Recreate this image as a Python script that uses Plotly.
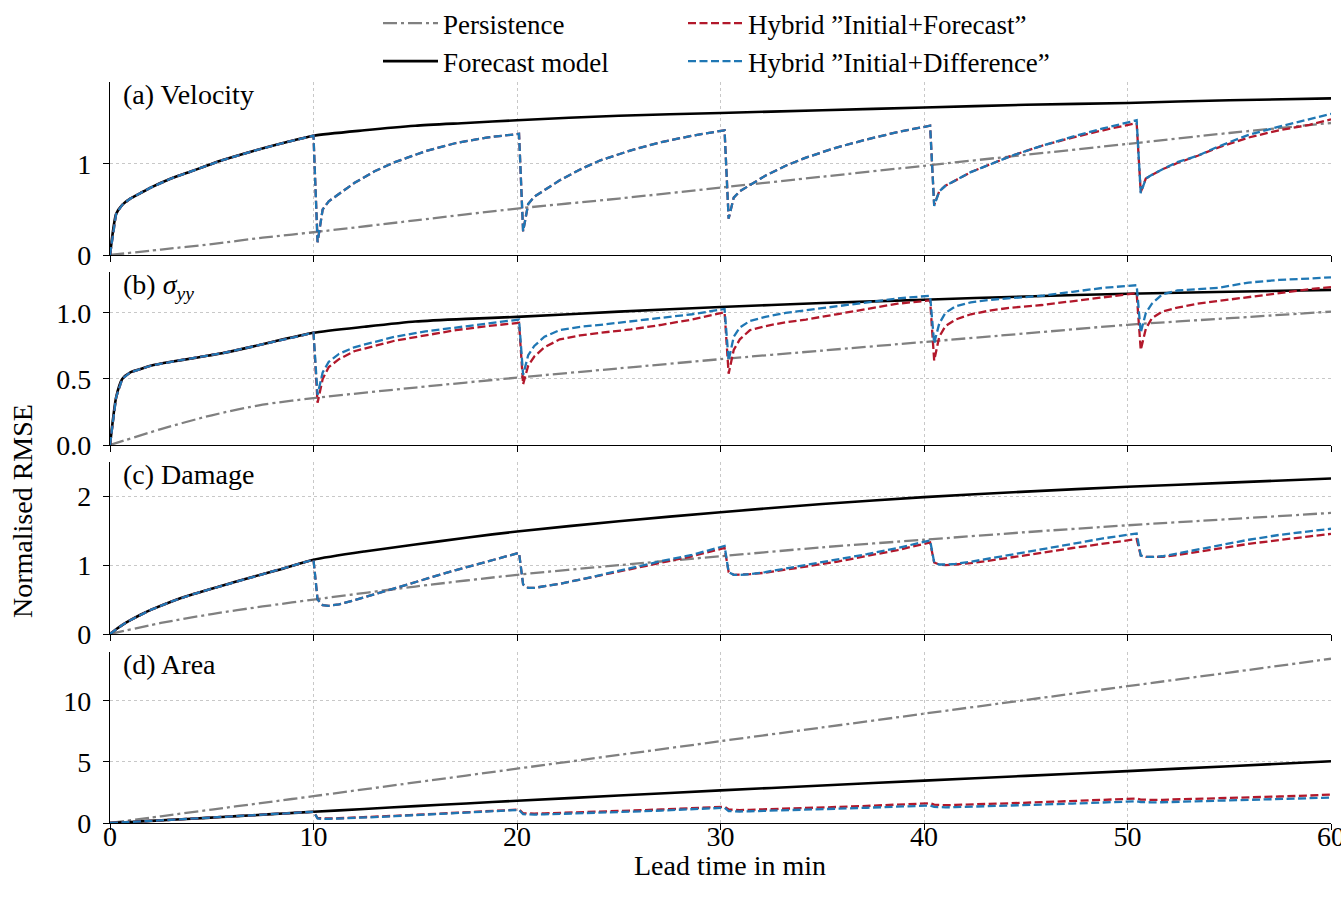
import plotly.graph_objects as go
from plotly.subplots import make_subplots

# ---------------- data ----------------
HYB_T = [0, 0.3, 0.6, 1, 1.5, 2, 3, 4, 5.5, 7, 8.5, 10.0,
         10.2, 10.45, 10.75, 11.25, 12, 13, 14, 15.5, 17, 18.5, 20.1,
         20.3, 20.55, 20.85, 21.35, 22.1, 23.1, 24.1, 25.6, 27.1, 28.6, 30.2,
         30.4, 30.65, 30.95, 31.45, 32.2, 33.2, 34.2, 35.7, 37.2, 38.7, 40.3,
         40.5, 40.75, 41.05, 41.55, 42.3, 43.3, 44.3, 45.8, 47.3, 48.8, 50.45,
         50.65, 50.9, 51.2, 51.7, 52.45, 53.45, 54.45, 55.95, 57.45, 58.95, 60]
FC_T = [0, 0.3, 0.6, 1, 1.5, 2, 3, 4, 5.5, 7, 8.5, 10,
        12.5, 15, 17.5, 20, 25, 30, 35, 40, 45, 50, 55, 60]
PERS_T = [0, 2.5, 5, 7.5, 10, 15, 20, 25, 30, 35, 40, 45, 50, 55, 60]

# (a) Velocity
VEL_PERS = [0, 0.06, 0.12, 0.19, 0.25, 0.38, 0.51, 0.62, 0.74, 0.86, 0.98, 1.10, 1.22, 1.34, 1.45]
VEL_FC = [0, 0.45, 0.55, 0.62, 0.68, 0.74, 0.84, 0.92, 1.04, 1.14, 1.23, 1.31,
          1.37, 1.42, 1.45, 1.48, 1.53, 1.56, 1.59, 1.62, 1.65, 1.67, 1.70, 1.72]
VEL_HIF = [0, 0.45, 0.55, 0.62, 0.68, 0.74, 0.84, 0.92, 1.04, 1.14, 1.23, 1.31,
           0.14, 0.50, 0.59, 0.67, 0.79, 0.92, 1.02, 1.14, 1.23, 1.29, 1.33,
           0.26, 0.56, 0.64, 0.71, 0.82, 0.94, 1.04, 1.15, 1.24, 1.31, 1.37,
           0.40, 0.63, 0.70, 0.77, 0.87, 0.98, 1.07, 1.18, 1.27, 1.35, 1.42,
           0.55, 0.70, 0.76, 0.82, 0.91, 1.00, 1.09, 1.20, 1.29, 1.37, 1.45,
           0.69, 0.84, 0.88, 0.94, 1.01, 1.09, 1.18, 1.29, 1.37, 1.43, 1.49]
VEL_HID = [0, 0.45, 0.55, 0.62, 0.68, 0.74, 0.84, 0.92, 1.04, 1.14, 1.23, 1.31,
           0.14, 0.50, 0.59, 0.67, 0.79, 0.92, 1.02, 1.14, 1.23, 1.29, 1.33,
           0.26, 0.56, 0.64, 0.71, 0.82, 0.94, 1.04, 1.15, 1.24, 1.31, 1.37,
           0.40, 0.63, 0.70, 0.77, 0.87, 0.98, 1.07, 1.18, 1.27, 1.35, 1.42,
           0.54, 0.70, 0.76, 0.82, 0.91, 1.00, 1.09, 1.20, 1.30, 1.39, 1.48,
           0.68, 0.84, 0.88, 0.94, 1.02, 1.09, 1.19, 1.32, 1.41, 1.49, 1.55]

# (b) sigma_yy
SIG_PERS = [0, 0.12, 0.225, 0.305, 0.355, 0.435, 0.51, 0.58, 0.65, 0.715, 0.78, 0.845, 0.91, 0.96, 1.01]
SIG_FC = [0, 0.36, 0.50, 0.55, 0.575, 0.60, 0.63, 0.655, 0.695, 0.745, 0.80, 0.85,
          0.895, 0.935, 0.955, 0.97, 1.01, 1.045, 1.075, 1.10, 1.125, 1.145, 1.16, 1.175]
SIG_HIF = [0, 0.36, 0.50, 0.55, 0.575, 0.60, 0.63, 0.655, 0.695, 0.745, 0.80, 0.85,
           0.32, 0.50, 0.59, 0.65, 0.71, 0.75, 0.79, 0.83, 0.87, 0.90, 0.925,
           0.46, 0.60, 0.67, 0.74, 0.80, 0.83, 0.85, 0.875, 0.91, 0.95, 1.005,
           0.54, 0.72, 0.80, 0.87, 0.90, 0.93, 0.95, 0.99, 1.03, 1.07, 1.095,
           0.64, 0.82, 0.90, 0.95, 0.99, 1.02, 1.04, 1.06, 1.09, 1.12, 1.15,
           0.72, 0.88, 0.96, 1.01, 1.04, 1.07, 1.09, 1.12, 1.15, 1.18, 1.195]
SIG_HID = [0, 0.36, 0.50, 0.55, 0.575, 0.60, 0.63, 0.655, 0.695, 0.745, 0.80, 0.85,
           0.38, 0.55, 0.63, 0.69, 0.74, 0.78, 0.82, 0.86, 0.89, 0.92, 0.95,
           0.53, 0.68, 0.75, 0.82, 0.87, 0.895, 0.91, 0.935, 0.96, 0.99, 1.03,
           0.64, 0.82, 0.89, 0.94, 0.97, 1.00, 1.02, 1.05, 1.08, 1.11, 1.13,
           0.77, 0.92, 1.00, 1.05, 1.08, 1.10, 1.11, 1.13, 1.16, 1.19, 1.21,
           0.85, 1.00, 1.07, 1.14, 1.17, 1.18, 1.19, 1.23, 1.25, 1.26, 1.27]

# (c) Damage
DAM_PERS = [0, 0.16, 0.29, 0.40, 0.50, 0.69, 0.86, 1.00, 1.13, 1.26, 1.37, 1.48, 1.58, 1.67, 1.76]
DAM_FC = [0, 0.07, 0.13, 0.20, 0.28, 0.35, 0.47, 0.57, 0.70, 0.83, 0.95, 1.08,
          1.20, 1.30, 1.40, 1.49, 1.64, 1.77, 1.89, 1.99, 2.07, 2.14, 2.20, 2.26]
DAM_HIF = [0, 0.07, 0.13, 0.20, 0.28, 0.35, 0.47, 0.57, 0.70, 0.83, 0.95, 1.08,
           0.50, 0.42, 0.41, 0.43, 0.49, 0.58, 0.67, 0.80, 0.93, 1.05, 1.18,
           0.72, 0.67, 0.67, 0.69, 0.73, 0.79, 0.85, 0.94, 1.04, 1.13, 1.25,
           0.90, 0.86, 0.86, 0.87, 0.89, 0.93, 0.98, 1.05, 1.13, 1.22, 1.33,
           1.04, 1.01, 1.00, 1.01, 1.03, 1.07, 1.11, 1.18, 1.25, 1.31, 1.38,
           1.14, 1.12, 1.12, 1.12, 1.15, 1.19, 1.24, 1.31, 1.37, 1.42, 1.455]
DAM_HID = [0, 0.07, 0.13, 0.20, 0.28, 0.35, 0.47, 0.57, 0.70, 0.83, 0.95, 1.08,
           0.50, 0.42, 0.41, 0.43, 0.49, 0.58, 0.67, 0.80, 0.93, 1.05, 1.18,
           0.72, 0.67, 0.67, 0.69, 0.73, 0.79, 0.86, 0.96, 1.06, 1.15, 1.28,
           0.90, 0.86, 0.86, 0.87, 0.90, 0.95, 1.00, 1.08, 1.16, 1.25, 1.36,
           1.04, 1.01, 1.01, 1.02, 1.05, 1.10, 1.15, 1.23, 1.31, 1.39, 1.46,
           1.14, 1.12, 1.12, 1.13, 1.17, 1.23, 1.29, 1.37, 1.44, 1.49, 1.53]

# (d) Area
AREA_PERS = [0, 0.55, 1.1, 1.65, 2.2, 3.32, 4.45, 5.57, 6.7, 7.82, 8.95, 10.07, 11.2, 12.32, 13.45]
AREA_FC = [0, 0.02, 0.05, 0.08, 0.13, 0.17, 0.26, 0.35, 0.49, 0.63, 0.78, 0.92,
           1.15, 1.38, 1.60, 1.82, 2.25, 2.67, 3.07, 3.47, 3.86, 4.25, 4.65, 5.05]
AREA_HIF = [0, 0.02, 0.05, 0.08, 0.13, 0.17, 0.26, 0.35, 0.49, 0.63, 0.78, 0.92,
            0.40, 0.36, 0.37, 0.39, 0.43, 0.51, 0.59, 0.71, 0.83, 0.96, 1.10,
            0.80, 0.76, 0.77, 0.79, 0.82, 0.87, 0.93, 1.02, 1.11, 1.20, 1.33,
            1.10, 1.06, 1.06, 1.08, 1.11, 1.16, 1.22, 1.31, 1.40, 1.50, 1.62,
            1.50, 1.46, 1.46, 1.48, 1.51, 1.56, 1.62, 1.71, 1.80, 1.89, 2.00,
            1.92, 1.89, 1.89, 1.90, 1.93, 1.97, 2.02, 2.09, 2.17, 2.25, 2.33]
AREA_HID = [0, 0.02, 0.05, 0.08, 0.13, 0.17, 0.26, 0.35, 0.49, 0.63, 0.78, 0.92,
            0.38, 0.33, 0.34, 0.36, 0.40, 0.48, 0.56, 0.68, 0.80, 0.93, 1.07,
            0.72, 0.68, 0.69, 0.71, 0.74, 0.79, 0.85, 0.93, 1.02, 1.11, 1.25,
            0.98, 0.94, 0.94, 0.96, 0.99, 1.04, 1.09, 1.17, 1.25, 1.33, 1.43,
            1.32, 1.28, 1.28, 1.30, 1.33, 1.38, 1.43, 1.51, 1.59, 1.68, 1.78,
            1.72, 1.69, 1.69, 1.70, 1.73, 1.77, 1.81, 1.88, 1.95, 2.02, 2.08]

PANEL_LABELS = ["(a) Velocity", "(b) <i>σ<sub>yy</sub></i>", "(c) Damage", "(d) Area"]
SERIES_NAMES = ["Persistence", "Forecast model",
                "Hybrid \u201dInitial+Forecast\u201d", "Hybrid \u201dInitial+Difference\u201d"]
Y_RANGES = [[0, 1.9], [0, 1.31], [0, 2.5], [0, 14.0]]
Y_TICKS = [[0, 1], [0.0, 0.5, 1.0], [0, 1, 2], [0, 5, 10]]
Y_TICKTEXT = [["0", "1"], ["0.0", "0.5", "1.0"], ["0", "1", "2"], ["0", "5", "10"]]
X_TICKS = [0, 10, 20, 30, 40, 50, 60]

PANELS = [
    (VEL_PERS, VEL_FC, VEL_HIF, VEL_HID),
    (SIG_PERS, SIG_FC, SIG_HIF, SIG_HID),
    (DAM_PERS, DAM_FC, DAM_HIF, DAM_HID),
    (AREA_PERS, AREA_FC, AREA_HIF, AREA_HID),
]

# ---------------- figure ----------------
W, H = 1341, 898
ML, MR, MT, MB = 110, 10, 82, 75
PW = W - ML - MR
PH = H - MT - MB
FONT = "Liberation Serif"
FS = 28
LFS = 27

fig = make_subplots(rows=4, cols=1, shared_xaxes=False)

# panel extents in pixels from top
panel_px = [(82, 255), (272, 445), (462, 634), (652, 823)]

styles = [
    dict(color="#808080", width=2.3, dash="14px,4px,3px,4px", shape="spline", smoothing=0.8),
    dict(color="black", width=2.6, dash="solid", shape="spline", smoothing=0.6),
    dict(color="#b2182b", width=2.3, dash="8px,3.5px"),
    dict(color="#1f77b4", width=2.3, dash="8px,3.5px"),
]
legends = ["legend", "legend", "legend2", "legend2"]

for i, (pers, fc, hif, hid) in enumerate(PANELS):
    r = i + 1
    xs = [PERS_T, FC_T, HYB_T, HYB_T]
    ys = [pers, fc, hif, hid]
    for k in range(4):
        fig.add_trace(go.Scatter(
            x=xs[k], y=ys[k], mode="lines", name=SERIES_NAMES[k],
            line=styles[k], showlegend=(i == 0), legend=legends[k],
            hoverinfo="skip"), row=r, col=1)

    top, bot = panel_px[i]
    dom = [(H - MB - bot) / PH, (H - MB - top) / PH]
    yname = "yaxis" if r == 1 else f"yaxis{r}"
    xname = "xaxis" if r == 1 else f"xaxis{r}"
    fig.layout[yname].update(
        domain=dom, range=Y_RANGES[i], tickvals=Y_TICKS[i], ticktext=Y_TICKTEXT[i],
        showline=True, linecolor="black", linewidth=1.3, ticks="outside",
        ticklen=6, tickwidth=1.3, tickcolor="black", showgrid=True,
        gridcolor="#c8c8c8", griddash="dot", gridwidth=1, zeroline=False,
        ticklabelstandoff=6,
        tickfont=dict(family=FONT, size=FS, color="black"))
    fig.layout[xname].update(
        range=[0, 60], tickvals=X_TICKS, showticklabels=(r == 4),
        showline=True, linecolor="black", linewidth=1.3, ticks="outside",
        ticklen=6, tickwidth=1.3, tickcolor="black", showgrid=True,
        gridcolor="#c8c8c8", griddash="dot", gridwidth=1, zeroline=False,
        ticklabeloverflow="allow", ticklabelstandoff=-18,
        tickfont=dict(family=FONT, size=FS, color="black"))

    xd = "x domain" if r == 1 else f"x{r} domain"
    yd = "y domain" if r == 1 else f"y{r} domain"
    fig.add_annotation(text=PANEL_LABELS[i], xref=xd, yref=yd, x=0.009, y=1.0,
                       xanchor="left", yanchor="top", showarrow=False, yshift=5,
                       font=dict(family=FONT, size=FS, color="black"))

fig.add_annotation(text="Lead time in min", xref="paper", yref="paper",
                   x=(730 - ML) / PW, y=-(865 - (H - MB)) / PH,
                   xanchor="center", yanchor="middle", showarrow=False,
                   font=dict(family=FONT, size=FS, color="black"))
fig.add_annotation(text="Normalised RMSE", xref="paper", yref="paper",
                   x=-(ML - 22) / PW, y=(H - MB - 511) / PH,
                   xanchor="center", yanchor="middle", showarrow=False, textangle=-90,
                   font=dict(family=FONT, size=FS, color="black"))

leg_common = dict(xanchor="left", yanchor="top", orientation="v",
                  font=dict(family=FONT, size=LFS, color="black"),
                  bgcolor="rgba(0,0,0,0)", itemwidth=55, tracegroupgap=0)
fig.update_layout(
    width=W, height=H,
    margin=dict(l=ML, r=MR, t=MT, b=MB, autoexpand=False),
    paper_bgcolor="white", plot_bgcolor="white",
    font=dict(family=FONT, size=FS, color="black"),
    legend=dict(x=(378 - ML) / PW, y=1 + (MT + 1) / PH, **leg_common),
    legend2=dict(x=(683 - ML) / PW, y=1 + (MT + 1) / PH, **leg_common),
)

fig.write_html("out.html")
